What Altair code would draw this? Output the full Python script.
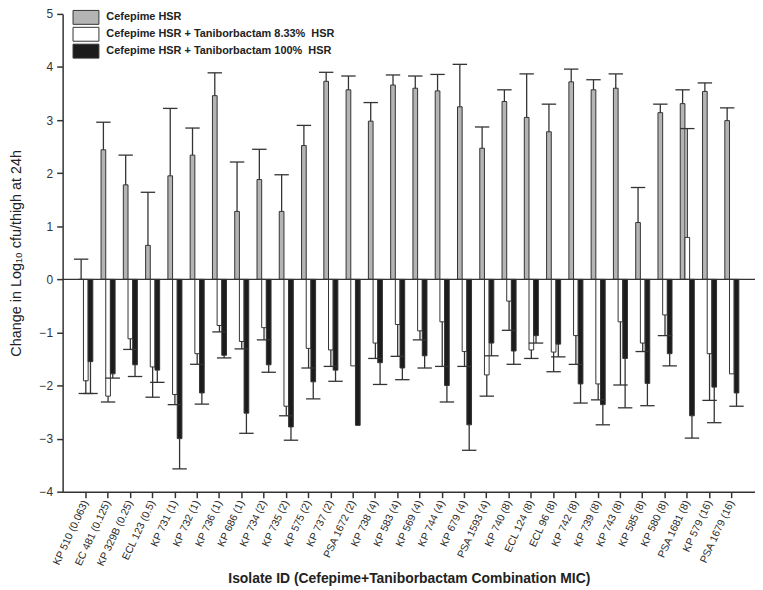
import altair as alt
import pandas as pd

isolates = ["KP 510 (0.063)", "EC 481 (0.125)", "KP 329B (0.25)", "ECL 123 (0.5)",
            "KP 731 (1)", "KP 732 (1)", "KP 736 (1)", "KP 686 (1)", "KP 734 (2)",
            "KP 735 (2)", "KP 575 (2)", "KP 737 (2)", "PSA 1672 (2)", "KP 738 (4)",
            "KP 583 (4)", "KP 569 (4)", "KP 744 (4)", "KP 679 (4)", "PSA 1593 (4)",
            "KP 740 (8)", "ECL 124 (8)", "ECL 96 (8)", "KP 742 (8)", "KP 739 (8)",
            "KP 743 (8)", "KP 585 (8)", "KP 580 (8)", "PSA 1681 (8)", "KP 579 (16)",
            "PSA 1679 (16)"]

series_names = ["Cefepime HSR",
                "Cefepime HSR + Taniborbactam 8.33%\u00a0 HSR",
                "Cefepime HSR + Taniborbactam 100%\u00a0 HSR"]

cefepime = [0.0, 2.44, 1.78, 0.64, 1.95, 2.34, 3.46, 1.28, 1.88, 1.28,
            2.52, 3.73, 3.57, 2.98, 3.66, 3.60, 3.55, 3.25, 2.47, 3.35,
            3.05, 2.78, 3.72, 3.57, 3.60, 1.07, 3.14, 3.31, 3.54, 2.99]
cefepime_err = [0.38, 2.96, 2.34, 1.64, 3.22, 2.85, 3.89, 2.21, 2.45, 1.97,
                2.90, 3.90, 3.83, 3.33, 3.85, 3.83, 3.86, 4.05, 2.87, 3.57,
                3.87, 3.30, 3.96, 3.76, 3.87, 1.73, 3.30, 3.57, 3.70, 3.23]

tan833 = [-1.91, -2.20, -1.12, -1.65, -2.17, -1.40, -0.87, -1.17, -0.91, -2.39,
          -1.30, -1.33, -1.63, -1.20, -0.85, -0.97, -0.80, -1.36, -1.80, -0.41,
          -1.33, -1.37, -1.06, -1.97, -0.80, -1.20, -0.67, 0.79, -1.40, -1.78]
tan833_err = [-2.15, -2.31, -1.32, -2.22, -2.36, -1.60, -0.99, -1.31, -1.14, -2.57,
              -1.67, -1.64, None, -1.49, -1.45, -1.14, -1.64, -1.64, -2.20, -0.96,
              -1.49, -1.74, -1.60, -2.27, -1.99, -1.36, -1.06, 2.84, -2.28, None]

tan100 = [-1.55, -1.78, -1.61, -1.71, -3.00, -2.14, -1.43, -2.52, -1.61, -2.78,
          -1.93, -1.71, -2.75, -1.57, -1.67, -1.44, -2.00, -2.74, -1.20, -1.35,
          -1.06, -1.22, -1.97, -2.36, -1.49, -1.96, -1.40, -2.57, -2.03, -2.14]
tan100_err = [-2.15, -1.86, -1.83, -1.94, -3.57, -2.35, -1.48, -2.90, -1.75, -3.03,
              -2.25, -1.92, None, -1.98, -1.89, -1.67, -2.31, -3.22, -1.44, -1.60,
              -1.20, -1.46, -2.33, -2.74, -2.42, -2.38, -1.63, -2.99, -2.70, -2.39]

colors = ["#b4b4b4", "#ffffff", "#1c1c1c"]

rows = []
for name, vals, errs in zip(series_names, [cefepime, tan833, tan100],
                            [cefepime_err, tan833_err, tan100_err]):
    for iso, v, e in zip(isolates, vals, errs):
        rows.append({"isolate": iso, "series": name, "value": v, "err": e})
df = pd.DataFrame(rows)

x_enc = alt.X("isolate:N", sort=isolates,
              scale=alt.Scale(paddingInner=0.37, paddingOuter=0.725),
              title="Isolate ID (Cefepime+Taniborbactam Combination MIC)",
              axis=alt.Axis(labelAngle=-65, labelFontSize=10.5, labelColor="#2a2a2a",
                            tickSize=6, labelPadding=3, titlePadding=4,
                            titleFontSize=14, titleFontWeight="bold", titleColor="#222",
                            domainColor="#333", domainWidth=1.5, tickColor="#333",
                            tickWidth=1.5, grid=False))
xoff_enc = alt.XOffset("series:N", sort=series_names)
y_enc = alt.Y("value:Q", scale=alt.Scale(domain=[-4, 5], nice=False),
              title="Change in Log\u2081\u2080 cfu/thigh at 24h",
              axis=alt.Axis(values=list(range(-4, 6)), format="d", labelFontSize=12,
                            labelColor="#333", tickSize=6, labelPadding=4, titlePadding=16,
                            titleFontSize=14.5, titleFontWeight="normal", titleColor="#222",
                            domainColor="#333", domainWidth=1.5, tickColor="#333",
                            tickWidth=1.5, grid=False))

base = alt.Chart(df)

bars = base.mark_bar(stroke="#333", strokeWidth=1).encode(
    x=x_enc, xOffset=xoff_enc, y=y_enc,
    fill=alt.Fill("series:N", scale=alt.Scale(domain=series_names, range=colors),
                  legend=alt.Legend(orient="none", legendX=16, legendY=-4, title=None,
                                    symbolType="M-1.86,-1H1.86V1H-1.86Z", symbolSize=196,
                                    symbolStrokeColor="#333", symbolStrokeWidth=1,
                                    symbolOpacity=1, labelFontSize=11,
                                    labelFontWeight="bold", labelColor="#222",
                                    labelLimit=0, labelOffset=13, rowPadding=-3, padding=0)),
)

err_base = base.transform_filter("isValid(datum.err)")
rules = err_base.mark_rule(color="#333", strokeWidth=1.3).encode(
    x=x_enc, xOffset=xoff_enc, y="value:Q", y2="err:Q")
caps = err_base.mark_tick(color="#333", thickness=1.3, size=14.5, opacity=1).encode(
    x=x_enc, xOffset=xoff_enc, y="err:Q")

zero = alt.Chart(pd.DataFrame({"z": [0]})).mark_rule(color="#333", strokeWidth=1.3).encode(
    y=alt.datum(0))

chart = alt.layer(bars, rules, caps, zero).properties(
    width=697, height=481,
    autosize=alt.AutoSizeParams(type="none"),
    padding={"left": 55, "top": 4, "right": 0, "bottom": 96},
).configure(font="Liberation Sans").configure_view(stroke=None)

chart.save("out.html", embed_options={"renderer": "svg", "actions": False})
